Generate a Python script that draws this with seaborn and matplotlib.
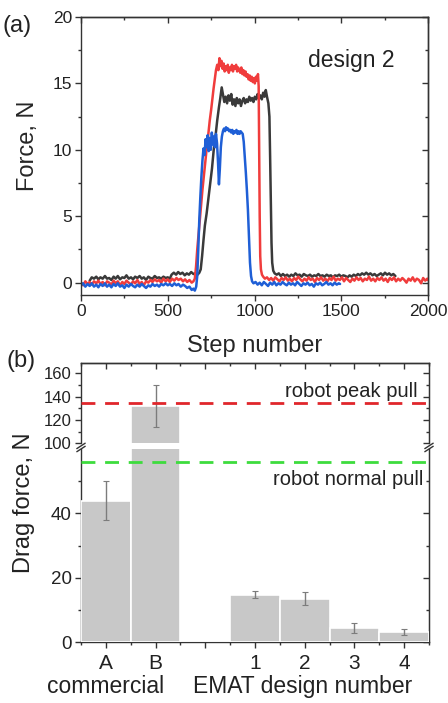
import numpy as np
import pandas as pd
import matplotlib
matplotlib.use("Agg")
import matplotlib.pyplot as plt
import matplotlib.transforms as mtransforms
from matplotlib.ticker import MultipleLocator, FixedLocator
import seaborn as sns

sns.set_style("ticks")
plt.rcParams['font.family'] = ['Liberation Sans', 'DejaVu Sans']

# ---- (a) force traces for design 2: (step, force in N) ----
black_trace = [
    (50, 0.15), (62, 0.4), (75, 0.3), (88, 0.45), (100, 0.25), (112, 0.4), (125, 0.3), (138, 0.5),
    (150, 0.3), (162, 0.35), (175, 0.2), (188, 0.45), (200, 0.3), (212, 0.5), (225, 0.25), (238, 0.4),
    (250, 0.35), (262, 0.55), (275, 0.3), (288, 0.4), (300, 0.25), (312, 0.45), (325, 0.35), (338, 0.5),
    (350, 0.3), (362, 0.4), (375, 0.2), (388, 0.45), (400, 0.35), (412, 0.3), (425, 0.5), (438, 0.35),
    (450, 0.4), (462, 0.3), (475, 0.45), (488, 0.35), (500, 0.4), (512, 0.3), (522, 0.6), (535, 0.75),
    (548, 0.6), (560, 0.8), (572, 0.65), (585, 0.75), (598, 0.55), (610, 0.7), (622, 0.6), (635, 0.8),
    (648, 0.65), (660, 0.7), (672, 0.6), (682, 0.75), (690, 1.0), (698, 2.0), (706, 3.2), (714, 4.3),
    (724, 5.2), (734, 6.3), (745, 7.5), (755, 8.6), (765, 10.0), (775, 11.0), (785, 12.2), (795, 13.2),
    (803, 13.9), (811, 14.7), (818, 14.2), (826, 13.6), (834, 14.0), (842, 13.5), (850, 14.1), (858, 13.7),
    (866, 14.2), (874, 13.4), (882, 13.8), (890, 13.3), (898, 13.9), (906, 13.5), (914, 13.8), (922, 13.3),
    (930, 13.7), (938, 13.9), (946, 13.5), (954, 13.8), (962, 13.6), (970, 14.0), (978, 13.7), (986, 13.9),
    (994, 13.6), (1002, 14.0), (1010, 13.8), (1018, 14.2), (1026, 13.9), (1034, 14.1), (1042, 13.8),
    (1050, 14.3), (1058, 14.0), (1065, 14.5), (1072, 14.0), (1080, 13.5), (1086, 12.5), (1090, 9.5),
    (1094, 6.0), (1098, 3.0), (1102, 1.5), (1108, 0.9), (1116, 0.7), (1128, 0.6), (1140, 0.7), (1152, 0.5),
    (1164, 0.65), (1176, 0.5), (1188, 0.6), (1200, 0.45), (1212, 0.6), (1224, 0.5), (1236, 0.7), (1248, 0.55),
    (1260, 0.6), (1272, 0.45), (1284, 0.65), (1296, 0.55), (1308, 0.5), (1320, 0.6), (1332, 0.45), (1344, 0.55),
    (1356, 0.5), (1368, 0.65), (1380, 0.5), (1392, 0.55), (1404, 0.45), (1416, 0.6), (1428, 0.5), (1440, 0.55),
    (1452, 0.4), (1464, 0.55), (1476, 0.5), (1488, 0.6), (1500, 0.45), (1512, 0.55), (1524, 0.5), (1536, 0.4),
    (1548, 0.55), (1560, 0.45), (1572, 0.6), (1584, 0.5), (1596, 0.65), (1608, 0.55), (1620, 0.7), (1632, 0.6),
    (1644, 0.75), (1656, 0.6), (1668, 0.7), (1680, 0.55), (1692, 0.65), (1704, 0.5), (1716, 0.6), (1728, 0.7),
    (1740, 0.55), (1752, 0.75), (1764, 0.6), (1776, 0.7), (1788, 0.55), (1800, 0.65), (1812, 0.5),
]

red_trace = [
    (0, 0.0), (12, -0.2), (25, 0.1), (38, -0.1), (50, 0.05), (62, -0.15), (75, 0.1), (88, -0.05),
    (100, 0.15), (112, -0.1), (125, 0.05), (138, -0.2), (150, 0.1), (162, 0.0), (175, -0.15), (188, 0.15),
    (200, -0.05), (212, 0.1), (225, -0.2), (238, 0.05), (250, -0.1), (262, 0.15), (275, 0.0), (288, -0.15),
    (300, 0.1), (312, -0.05), (325, 0.2), (338, -0.1), (350, 0.05), (362, -0.2), (375, 0.1), (388, 0.0),
    (400, 0.2), (412, 0.05), (425, 0.25), (438, 0.1), (450, 0.2), (462, 0.0), (475, 0.3), (488, 0.1),
    (500, 0.25), (512, 0.05), (525, 0.3), (538, 0.15), (550, 0.35), (562, 0.2), (575, 0.3), (588, 0.1),
    (600, 0.25), (612, 0.05), (625, 0.2), (638, 0.0), (648, 0.1), (656, 0.3), (663, 1.2), (670, 2.5),
    (680, 4.0), (690, 5.5), (700, 7.0), (710, 8.3), (718, 9.4), (726, 10.3), (734, 11.2), (742, 12.2),
    (750, 13.0), (757, 13.8), (764, 14.6), (771, 15.3), (778, 16.0), (785, 16.4), (792, 16.0), (798, 16.9),
    (804, 16.3), (810, 16.7), (816, 16.1), (822, 16.5), (828, 15.9), (834, 16.3), (840, 16.0), (846, 16.4),
    (852, 15.8), (858, 16.2), (864, 16.0), (870, 16.4), (876, 15.9), (882, 16.3), (888, 16.1), (894, 16.4),
    (900, 15.9), (906, 16.2), (912, 16.0), (918, 15.8), (924, 16.2), (930, 15.7), (936, 16.0), (942, 15.6),
    (948, 15.9), (954, 15.5), (960, 15.7), (966, 15.3), (972, 15.6), (978, 15.2), (984, 15.5), (990, 15.1),
    (996, 15.4), (1002, 15.0), (1008, 15.5), (1014, 15.2), (1020, 15.7), (1024, 14.8), (1027, 10.0),
    (1030, 5.0), (1033, 2.0), (1037, 1.0), (1043, 0.6), (1050, 0.45), (1060, 0.3), (1072, 0.4), (1084, 0.2),
    (1096, 0.35), (1108, 0.15), (1120, 0.4), (1132, 0.25), (1144, 0.1), (1156, 0.35), (1168, 0.2), (1180, 0.4),
    (1192, 0.15), (1204, 0.3), (1216, 0.1), (1228, 0.35), (1240, 0.2), (1252, 0.45), (1264, 0.25), (1276, 0.1),
    (1288, 0.3), (1300, 0.15), (1312, 0.4), (1324, 0.2), (1336, 0.3), (1348, 0.05), (1360, 0.35), (1372, 0.2),
    (1384, 0.4), (1396, 0.15), (1408, 0.3), (1420, 0.1), (1432, 0.35), (1444, 0.2), (1456, 0.45), (1468, 0.15),
    (1480, 0.3), (1492, 0.2), (1504, 0.4), (1516, 0.1), (1528, 0.35), (1540, 0.2), (1552, 0.05), (1564, 0.3),
    (1576, 0.15), (1588, 0.4), (1600, 0.2), (1612, 0.35), (1624, 0.1), (1636, 0.3), (1648, 0.2), (1660, 0.45),
    (1672, 0.15), (1684, 0.3), (1696, 0.1), (1708, 0.35), (1720, 0.2), (1732, 0.4), (1744, 0.15), (1756, 0.3),
    (1768, 0.05), (1780, 0.35), (1792, 0.2), (1804, 0.4), (1816, 0.1), (1828, 0.3), (1840, 0.15), (1852, 0.35),
    (1864, 0.2), (1876, 0.0), (1888, 0.3), (1900, 0.15), (1912, 0.4), (1924, 0.1), (1936, 0.3), (1948, 0.2),
    (1960, -0.05), (1972, 0.35), (1984, 0.15), (1996, 0.3), (2000, 0.2),
]

blue_trace = [
    (0, -0.2), (12, -0.05), (25, -0.3), (38, -0.1), (50, -0.25), (62, -0.05), (75, -0.3), (88, -0.15),
    (100, -0.35), (112, -0.1), (125, -0.25), (138, -0.05), (150, -0.3), (162, -0.15), (175, -0.35), (188, -0.1),
    (200, -0.25), (212, -0.05), (225, -0.3), (238, -0.2), (250, -0.4), (262, -0.15), (275, -0.3), (288, -0.1),
    (300, -0.25), (312, -0.35), (325, -0.15), (338, -0.3), (350, -0.1), (362, -0.25), (375, -0.4), (388, -0.2),
    (400, -0.3), (412, -0.1), (425, -0.25), (438, -0.15), (450, -0.3), (462, -0.1), (475, -0.2), (488, -0.05),
    (500, -0.2), (512, -0.1), (525, -0.25), (538, -0.05), (550, -0.2), (562, -0.1), (575, -0.3), (588, -0.15),
    (600, -0.25), (612, -0.4), (625, -0.3), (638, -0.55), (648, -0.45), (656, -0.6), (664, -0.3), (670, 0.5),
    (676, 2.5), (682, 4.8), (688, 6.5), (694, 8.0), (700, 9.2), (706, 10.1), (712, 9.6), (718, 10.8),
    (724, 10.2), (730, 11.1), (736, 9.9), (742, 10.9), (748, 10.0), (754, 11.3), (760, 10.4), (766, 11.0),
    (772, 10.2), (778, 11.2), (784, 10.5), (790, 9.0), (795, 7.4), (800, 8.5), (806, 10.2), (812, 11.0),
    (818, 11.4), (824, 11.6), (830, 11.4), (836, 11.7), (842, 11.5), (848, 11.6), (854, 11.4), (860, 11.5),
    (866, 11.3), (872, 11.5), (878, 11.2), (884, 11.4), (890, 11.3), (896, 11.5), (902, 11.2), (908, 11.4),
    (914, 11.2), (920, 11.4), (926, 11.3), (932, 11.2), (938, 10.6), (944, 9.5), (950, 8.3), (956, 7.0),
    (962, 5.5), (968, 3.5), (974, 1.5), (980, 0.5), (986, 0.1), (994, -0.05), (1006, 0.05), (1018, -0.15),
    (1030, 0.0), (1042, -0.2), (1054, 0.05), (1066, -0.1), (1078, -0.25), (1090, 0.0), (1102, -0.15),
    (1114, 0.05), (1126, -0.2), (1138, -0.05), (1150, -0.15), (1162, 0.05), (1174, -0.1), (1186, -0.2),
    (1198, 0.0), (1210, -0.15), (1222, -0.05), (1234, -0.2), (1246, 0.05), (1258, -0.1), (1270, -0.25),
    (1282, -0.05), (1294, -0.15), (1306, 0.0), (1318, -0.2), (1330, -0.1), (1342, -0.3), (1354, -0.05),
    (1366, -0.15), (1378, 0.0), (1390, -0.2), (1402, -0.1), (1414, 0.05), (1426, -0.15), (1438, -0.05),
    (1450, -0.2), (1462, 0.0), (1474, -0.15), (1486, -0.05), (1493, -0.1),
]

trace_colors = {"black": "#3a3a3a", "red": "#f03c3c", "blue": "#1f5fd6"}

# ---- (b) drag force per probe ----
categories = ["A", "B", " ", "1", "2", "3", "4"]
drag_force = [44.0, 132.0, 0.0, 14.8, 13.5, 4.5, 3.2]
drag_error = [6.0, 18.0, 0.0, 1.2, 2.0, 1.5, 0.8]
group_labels = ["commercial", "EMAT design number"]
group_centers = [0.0, 3.95]
peak_pull = 135
normal_pull = 56

W, H = 448, 703
fig = plt.figure(figsize=(W / 100, H / 100), dpi=100)
fig.patch.set_facecolor("white")


def box(left, top, right, bottom):
    return [left / W, 1 - bottom / H, (right - left) / W, (bottom - top) / H]


SPINE = "#333333"
TICK_FS = 12.5
LABEL_FS = 17

# ------------------------- panel (a) -------------------------
ax_a = fig.add_axes(box(81, 17, 428, 295))
frames = []
for name, trace in [("black", black_trace), ("red", red_trace), ("blue", blue_trace)]:
    df = pd.DataFrame(trace, columns=["step", "force"])
    df["run"] = name
    frames.append(df)
traces = pd.concat(frames, ignore_index=True)
sns.lineplot(data=traces, x="step", y="force", hue="run", palette=trace_colors,
             estimator=None, sort=False, linewidth=1.8, legend=False, ax=ax_a)
ax_a.set_xlim(0, 2000)
ax_a.set_ylim(-0.93, 20)
ax_a.xaxis.set_major_locator(MultipleLocator(500))
ax_a.xaxis.set_minor_locator(MultipleLocator(250))
ax_a.yaxis.set_major_locator(MultipleLocator(5))
ax_a.yaxis.set_minor_locator(MultipleLocator(2.5))
ax_a.tick_params(which="both", direction="out", color=SPINE, width=1, labelsize=TICK_FS,
                 labelcolor="#222222", pad=2)
ax_a.tick_params(which="major", length=4.5)
ax_a.tick_params(which="minor", length=2.5)
ax_a.set_xlabel("Step number", fontsize=LABEL_FS)
ax_a.set_ylabel("Force, N", fontsize=LABEL_FS)
ax_a.xaxis.label.set_va("center")
ax_a.xaxis.set_label_coords(0.5, (295 - 346) / 278)
ax_a.yaxis.label.set_va("center")
ax_a.yaxis.set_label_coords((28 - 81) / 347, 1 - (146 - 17) / 278)
ax_a.text(0.778, 0.845, "design 2", transform=ax_a.transAxes, fontsize=16.5,
          ha="center", va="center", color="#222222")

top_a = ax_a.secondary_xaxis("top")
top_a.xaxis.set_major_locator(MultipleLocator(500))
top_a.xaxis.set_minor_locator(MultipleLocator(250))
top_a.tick_params(which="both", direction="in", labeltop=False, color=SPINE, width=1)
top_a.tick_params(which="major", length=4.5)
top_a.tick_params(which="minor", length=2.5)
right_a = ax_a.secondary_yaxis("right")
right_a.yaxis.set_major_locator(MultipleLocator(5))
right_a.yaxis.set_minor_locator(MultipleLocator(2.5))
right_a.tick_params(which="both", direction="in", labelright=False, color=SPINE, width=1)
right_a.tick_params(which="major", length=4.5)
right_a.tick_params(which="minor", length=2.5)

for a in (ax_a, top_a, right_a):
    for s in a.spines.values():
        s.set_color(SPINE)
        s.set_linewidth(1.0)

# ------------------------- panel (b) -------------------------
ax_hi = fig.add_axes(box(81, 363, 429, 443.3))
ax_lo = fig.add_axes(box(81, 449, 429, 642.3))
bars = pd.DataFrame({"probe": categories, "force": drag_force, "err": drag_error})
BAR_COLOR = "#c8c8c8"
for a in (ax_hi, ax_lo):
    sns.barplot(data=bars, x="probe", y="force", order=categories, color=BAR_COLOR,
                errorbar=None, width=1.0, edgecolor="white", linewidth=1.2,
                saturation=1.0, zorder=3, ax=a)
    has_err = bars["err"] > 0
    xpos = np.arange(len(categories))[has_err.values]
    a.errorbar(xpos, bars["force"][has_err], yerr=bars["err"][has_err], fmt="none",
               ecolor="#7c7c7c", elinewidth=1.0, capsize=2.5, capthick=0.8, zorder=4)
    a.set_xlim(-0.5, len(categories) - 0.5)
    a.set_xlabel("")
    a.set_ylabel("")

ax_hi.set_ylim(100, 169)
ax_lo.set_ylim(0, 60)
ax_hi.axhline(peak_pull, color="#e0262b", lw=2.0, dashes=(5, 3.5), zorder=5)
ax_lo.axhline(normal_pull, color="#3ddc3d", lw=2.0, dashes=(5, 3.5), zorder=5)
ax_hi.text(0.966, 0.65, "robot peak pull", transform=ax_hi.transAxes, fontsize=14.5,
           ha="right", va="center", color="#222222")
ax_lo.text(0.983, 0.84, "robot normal pull", transform=ax_lo.transAxes, fontsize=14.5,
           ha="right", va="center", color="#222222")

ax_hi.yaxis.set_major_locator(FixedLocator([100, 120, 140, 160]))
ax_hi.yaxis.set_minor_locator(FixedLocator([110, 130, 150]))
ax_lo.yaxis.set_major_locator(FixedLocator([0, 20, 40]))
ax_lo.yaxis.set_minor_locator(FixedLocator([10, 30, 50]))
edges = np.arange(len(categories) + 1) - 0.5
ax_lo.xaxis.set_minor_locator(FixedLocator(edges))

ax_hi.spines["bottom"].set_visible(False)
ax_lo.spines["top"].set_visible(False)
ax_hi.tick_params(axis="x", which="both", bottom=False, labelbottom=False)
ax_hi.tick_params(axis="y", which="both", direction="out", color=SPINE, width=1,
                  labelsize=12, pad=2, labelcolor="#222222")
ax_lo.tick_params(axis="y", which="both", direction="out", color=SPINE, width=1,
                  labelsize=13.5, pad=2, labelcolor="#222222")
ax_lo.tick_params(axis="x", which="both", direction="out", color=SPINE, width=1,
                  labelsize=15, pad=4, labelcolor="#222222")
for a in (ax_hi, ax_lo):
    a.tick_params(which="major", length=4.5)
    a.tick_params(which="minor", length=2.5)

top_b = ax_hi.secondary_xaxis("top")
top_b.set_xticks(np.arange(len(categories)))
top_b.xaxis.set_minor_locator(FixedLocator(edges))
top_b.tick_params(which="both", direction="in", labeltop=False, color=SPINE, width=1)
top_b.tick_params(which="major", length=4.5)
top_b.tick_params(which="minor", length=2.5)

for a, major, minor in ((ax_hi, [100, 120, 140, 160], [110, 130, 150]),
                        (ax_lo, [0, 20, 40], [10, 30, 50])):
    r = a.secondary_yaxis("right")
    r.yaxis.set_major_locator(FixedLocator(major))
    r.yaxis.set_minor_locator(FixedLocator(minor))
    r.tick_params(which="both", direction="in", labelright=False, color=SPINE, width=1)
    r.tick_params(which="major", length=4.5)
    r.tick_params(which="minor", length=2.5)
    for s in r.spines.values():
        s.set_color(SPINE)
    if a is ax_hi:
        r.spines["right"].set_bounds(100, 169)

for a in (ax_hi, ax_lo, top_b):
    for s in a.spines.values():
        s.set_color(SPINE)
        s.set_linewidth(1.0)

# group captions under the category labels
blend = mtransforms.blended_transform_factory(ax_lo.transData, ax_lo.transAxes)
for label, xc in zip(group_labels, group_centers):
    ax_lo.text(xc, -0.23, label, transform=blend, fontsize=16.5, ha="center",
               va="center", color="#222222")

# axis-break marks on both side spines
for xs in (0.0, 1.0):
    for yc in (1.0, 1.016):
        ax_lo.plot([xs - 0.012, xs + 0.012], [yc - 0.014, yc + 0.014], color=SPINE,
                   lw=1.0, transform=ax_lo.transAxes, clip_on=False, zorder=6)

fig.text(24 / W, 1 - 503 / H, "Drag force, N", rotation=90, fontsize=LABEL_FS,
         ha="center", va="center", color="#222222")
fig.text(17 / W, 1 - 26 / H, "(a)", fontsize=17, ha="center", va="center", color="#222222")
fig.text(21 / W, 1 - 361 / H, "(b)", fontsize=17, ha="center", va="center", color="#222222")

fig.savefig("out.png", dpi=100, facecolor="white")
